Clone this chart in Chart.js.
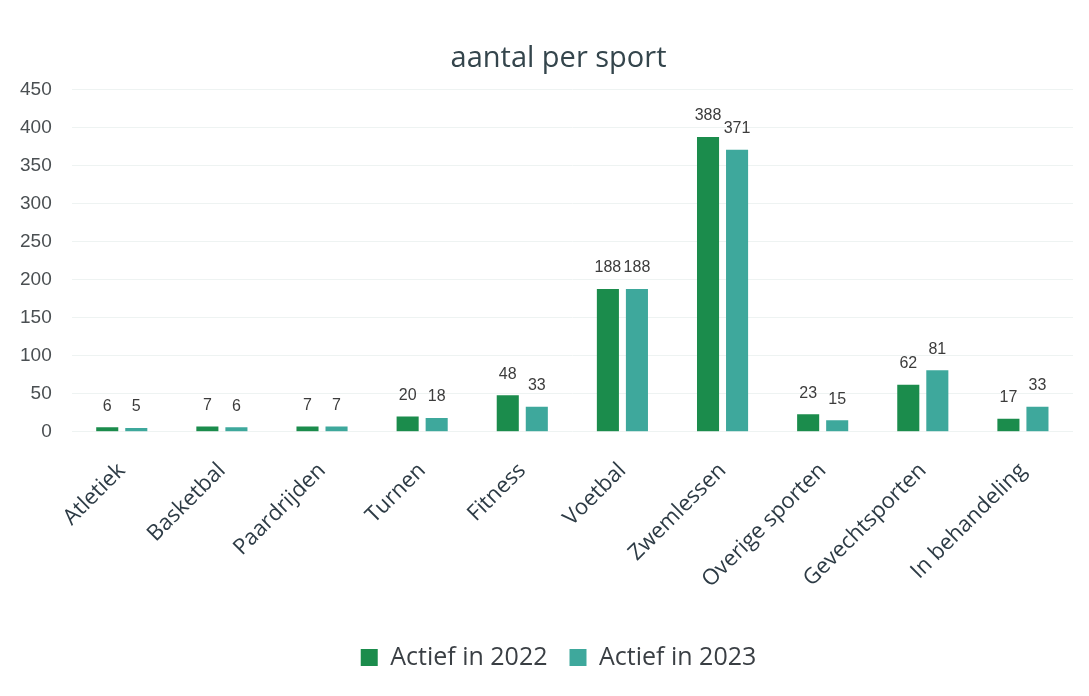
<!DOCTYPE html>
<html>
<head>
<meta charset="utf-8">
<script src="https://cdn.jsdelivr.net/npm/chart.js@4.4.1/dist/chart.umd.min.js"></script>
<style>
  html, body { margin: 0; padding: 0; background: #fff; }
  #wrap { width: 1089px; height: 696px; }
</style>
</head>
<body>
<div id="wrap"><canvas id="chartCanvas"></canvas></div>
<script>
const categories = ["Atletiek", "Basketbal", "Paardrijden", "Turnen", "Fitness", "Voetbal", "Zwemlessen", "Overige sporten", "Gevechtsporten", "In behandeling"];
const actief2022 = [6, 7, 7, 20, 48, 188, 388, 23, 62, 17];
const actief2023 = [5, 6, 7, 18, 33, 188, 371, 15, 81, 33];
const yTicks = [0, 50, 100, 150, 200, 250, 300, 350, 400, 450];

// value labels above each bar
const valueLabels = {
  id: 'valueLabels',
  afterDatasetsDraw(chart) {
    const c = chart.ctx;
    c.save();
    c.font = '16px "Liberation Sans", Arial, sans-serif';
    c.fillStyle = '#3c3c3c';
    c.textAlign = 'center';
    c.textBaseline = 'bottom';
    chart.data.datasets.forEach((ds, i) => {
      chart.getDatasetMeta(i).data.forEach((bar, j) => {
        c.fillText(ds.data[j], bar.x, bar.y - 13);
      });
    });
    c.restore();
  }
};

// title and legend sit a bit right of the canvas centre in the original
const shiftBoxes = {
  id: 'shiftBoxes',
  afterLayout(chart) {
    [chart.titleBlock, chart.legend].forEach(b => {
      if (!b) return;
      b.left += 22;
      b.right += 22;
    });
  }
};

const ctx = document.getElementById('chartCanvas').getContext('2d');

new Chart(ctx, {
  type: 'bar',
  data: {
    labels: categories,
    datasets: [
      { label: 'Actief in 2022', data: actief2022, backgroundColor: '#1b8c4c' },
      { label: 'Actief in 2023', data: actief2023, backgroundColor: '#3ea89c' }
    ]
  },
  options: {
    responsive: true,
    maintainAspectRatio: false,
    animation: false,
    devicePixelRatio: 1,
    layout: { padding: { left: 0, right: 16, top: 33, bottom: 16 } },
    datasets: { bar: { categoryPercentage: 0.58, barPercentage: 0.76 } },
    plugins: {
      title: {
        display: true,
        text: 'aantal per sport',
        color: '#34454c',
        font: { family: '"Open Sans", sans-serif', size: 29, weight: 'normal' },
        padding: { top: 8, bottom: 14 }
      },
      legend: {
        position: 'bottom',
        labels: {
          color: '#3a3f44',
          font: { family: '"Open Sans", sans-serif', size: 25 },
          boxWidth: 17, boxHeight: 17, padding: 22
        }
      },
      tooltip: { enabled: false }
    },
    scales: {
      y: {
        min: 0, max: 450,
        afterBuildTicks: axis => { axis.ticks = yTicks.map(v => ({ value: v })); },
        ticks: { color: '#4a4f52', font: { family: '"Liberation Sans", Arial, sans-serif', size: 19 }, padding: 20 },
        grid: { color: '#eef3f2', drawTicks: false },
        border: { display: false }
      },
      x: {
        afterFit: scale => { scale.height += 12; },
        ticks: {
          color: '#2d3b45', autoSkip: false, maxRotation: 45, minRotation: 45,
          font: { family: '"Open Sans", sans-serif', size: 22 }, padding: 18
        },
        grid: { display: false },
        border: { display: false }
      }
    }
  },
  plugins: [valueLabels, shiftBoxes]
});
</script>
</body>
</html>
